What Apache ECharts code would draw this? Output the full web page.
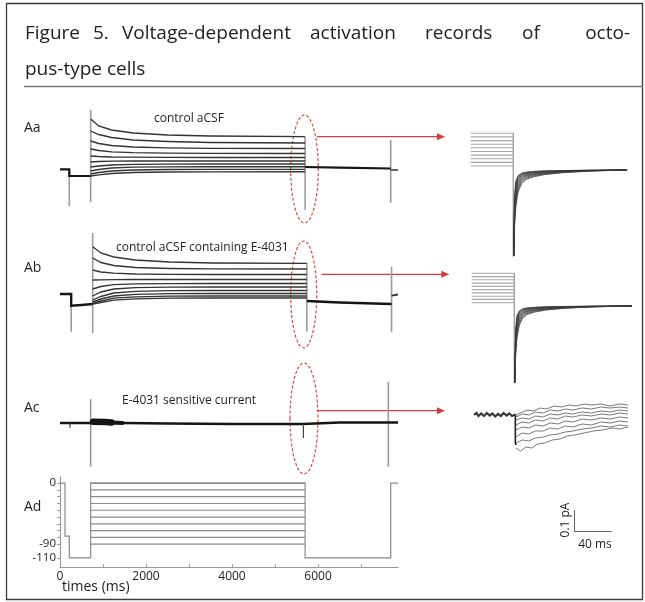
<!DOCTYPE html>
<html>
<head>
<meta charset="utf-8">
<script src="https://cdn.jsdelivr.net/npm/echarts@6/dist/echarts.min.js"></script>
<style>
html, body { margin: 0; padding: 0; background: #fff; }
#chart { width: 645px; height: 602px; }
</style>
</head>
<body>
<div id="chart"></div>
<script>
// ---------- shared time axis (ms) ----------
const timeRange = [0, 7860];
const timeLabelValues = [0, 2000, 4000, 6000];
const timeTickValues = [0, 1000, 2000, 3000, 4000, 5000, 6000, 7000];

// ---------- Ad: voltage protocol (mV) ----------
const voltageRange = [-124, 9];
const voltageLabelValues = [0, -90, -110];
const voltageTickValues = [0, -10, -20, -30, -40, -50, -60, -70, -80, -90, -110];
const protocolOutline = [[0, 0], [116, 0], [116, -78], [216, -78], [216, -110], [713, -110],
  [713, 0], [5700, 0], [5700, -110], [7690, -110], [7690, 0], [7860, 0]];
const stepOn = 713, stepOff = 5700;
const stepLevels = [0, -10, -20, -30, -40, -50, -60, -70, -80, -90];

// ---------- Aa: control aCSF (current, a.u.) ----------
const aaTimes = [713, 900, 1200, 1700, 2500, 3500, 5700];
const aaTraces = [
  [57, 50, 46, 43, 41, 40, 39.3],
  [45, 41.5, 38.5, 36, 34.5, 33.5, 33],
  [35, 32.5, 30.5, 29, 28.2, 27.7, 27.5],
  [27, 25.5, 24.2, 23.3, 22.8, 22.6, 22.5],
  [20, 19.5, 19, 18.8, 18.6, 18.5, 18.5],
  [14, 14.5, 14.8, 15, 15, 15, 15],
  [9, 10, 11, 11.6, 11.9, 12, 12],
  [5, 6.5, 8, 8.8, 9.2, 9.3, 9.3],
  [2, 3.5, 5, 6, 6.5, 6.7, 6.7],
  [0, 1.2, 2.5, 3.5, 4, 4.2, 4.3]
];
const aaHolding = [[0, 6.7], [216, 6.7], [216, 0], [713, 0]];
const aaTail = [[5700, 9], [6500, 8.3], [7690, 7.5]];
const aaAfter = [[7690, 6], [7860, 6]];
const aaTransients = [[216, 6.7, -30], [713, 66, -26], [5700, 39.3, -34], [7690, 36, -26.7]];

// ---------- Ab: control aCSF containing E-4031 ----------
const abTimes = [760, 950, 1250, 1750, 2550, 3550, 5740];
const abTraces = [
  [57.3, 51, 47, 44, 42, 41, 40.7],
  [46, 41.5, 38.5, 36.5, 35.5, 35.1, 35],
  [34, 32, 30.8, 30, 29.7, 29.5, 29.5],
  [24, 24.2, 24.4, 24.5, 24.5, 24.5, 24.5],
  [15, 17.5, 19.3, 20.1, 20.4, 20.5, 20.5],
  [8, 12, 15, 16.3, 16.8, 17, 17],
  [4, 7.5, 11, 12.6, 13.3, 13.5, 13.5],
  [2, 5, 8, 9.6, 10.3, 10.5, 10.5],
  [0.5, 3, 5.8, 7.2, 7.8, 8, 8],
  [0, 1.5, 3.8, 5.2, 5.8, 6, 6]
];
const abHolding = [[0, 10], [260, 10], [260, -1.7], [500, -1], [760, 0]];
const abTail = [[5740, 3], [6500, 1.5], [7710, 0]];
const abAfter = [[7710, 8.3], [7860, 9.5]];
const abTransients = [[260, 10, -27.7], [760, 71, -29], [5740, 40.7, -27.7], [7710, 37.3, -28.3]];

// ---------- Ac: E-4031 sensitive current ----------
const acTrace = [[0, 0], [760, 0], [1500, 0], [2500, -0.5], [4000, -1], [5660, -1], [5700, 0],
  [6500, 0.5], [7860, 0.5]];
const acEarlyNoise = [[770, 1.2], [1050, 1.0], [1200, 0.5]];
const acLateNoise = [[1200, 0.5], [1450, 0]];
const acGlitches = [[230, 0, -5], [5660, -1, -15]];
const acMarkers = [[713, 23.7, -43.7], [7635, 41.3, -43.7]];

// ---------- insets: tail currents after repolarisation (ms from window start) ----------
const insetAaStepEnd = 46.3;
const insetAaSteps = [36.7, 33.1, 29.4, 25.8, 22.2, 18.5, 14.9, 11.3, 7.6, 4];
const insetAaTimes = [46.8, 47.6, 49, 51.5, 55, 60, 68, 80, 100, 130, 168];
const insetAaTails = [
  [-86, -28, -11, -5.5, -3.2, -2.1, -1.4, -0.9, -0.5, -0.2, 0],
  [-86, -31, -13, -6.5, -3.9, -2.6, -1.7, -1.1, -0.6, -0.25, 0],
  [-86, -34, -15, -7.8, -4.7, -3.1, -2.1, -1.4, -0.8, -0.3, 0],
  [-86, -37, -17.5, -9.2, -5.6, -3.8, -2.6, -1.7, -1, -0.4, 0],
  [-86, -40, -20, -10.8, -6.6, -4.5, -3.1, -2.1, -1.2, -0.5, 0],
  [-86, -43, -23, -12.5, -7.8, -5.3, -3.7, -2.5, -1.4, -0.6, 0],
  [-86, -46, -26, -14.5, -9.1, -6.2, -4.4, -3, -1.7, -0.7, 0],
  [-86, -50, -29.5, -16.8, -10.6, -7.2, -5.1, -3.5, -2, -0.8, 0],
  [-86, -54, -33, -19.2, -12.2, -8.3, -5.9, -4, -2.3, -0.9, 0],
  [-86, -58, -37, -22, -14, -9.5, -6.8, -4.6, -2.6, -1, 0]
];

const insetAbStepEnd = 47.4;
const insetAbSteps = [32.7, 29.4, 26.2, 22.9, 19.6, 16.4, 13.1, 9.8, 6.6, 3.3];
const insetAbTimes = [47.9, 48.7, 50.1, 52.6, 56, 61, 69, 81, 101, 131, 173];
const insetAbTails = [
  [-77, -25, -10, -5, -2.9, -1.9, -1.3, -0.8, -0.45, -0.2, 0],
  [-77, -28, -11.7, -5.9, -3.5, -2.3, -1.5, -1, -0.55, -0.22, 0],
  [-77, -30.5, -13.5, -7, -4.2, -2.8, -1.9, -1.25, -0.7, -0.27, 0],
  [-77, -33, -15.8, -8.3, -5, -3.4, -2.3, -1.5, -0.9, -0.36, 0],
  [-77, -36, -18, -9.7, -5.9, -4, -2.8, -1.9, -1.1, -0.45, 0],
  [-77, -38.7, -20.7, -11.2, -7, -4.8, -3.3, -2.2, -1.25, -0.54, 0],
  [-77, -41.4, -23.4, -13, -8.2, -5.6, -4, -2.7, -1.5, -0.63, 0],
  [-77, -45, -26.5, -15, -9.5, -6.5, -4.6, -3.1, -1.8, -0.72, 0],
  [-77, -48.6, -29.7, -17.3, -11, -7.5, -5.3, -3.6, -2.1, -0.8, 0],
  [-77, -52, -33, -19.8, -12.6, -8.5, -6.1, -4.1, -2.3, -0.9, 0]
];

const insetAcBefore = [[4.3, 0], [7, 2], [9, -1], [12, 1.5], [15, -1], [18, 2], [21, -0.5], [24, 1.5],
  [27, -1.5], [30, 1], [33, -1], [36, 2], [39, -0.5], [42, 1.5], [45, -1], [48.5, 0.5]];
const insetAcDrop = [[48.5, 0.5], [48.5, -28], [49.5, -30]];
const insetAcTraces = [
  [[49, 0], [56, 3], [62, 5], [68, 4], [75, 7], [82, 6], [90, 9], [98, 8], [106, 10], [114, 9], [122, 11], [130, 10], [140, 11], [150, 9], [160, 11], [169, 10]],
  [[49, -2], [56, 1], [63, 0], [70, 3], [78, 2], [86, 5], [94, 4], [102, 6], [110, 5], [120, 7], [130, 6], [140, 8], [150, 7], [160, 8], [169, 7]],
  [[49, -5], [56, -3], [63, -4], [70, -1], [78, -2], [86, 1], [94, 0], [102, 2], [110, 1], [120, 3], [130, 2], [140, 4], [150, 3], [160, 5], [169, 4]],
  [[49, -10], [56, -7], [63, -8], [70, -5], [78, -6], [86, -3], [94, -4], [102, -1], [110, -2], [120, 0], [130, -1], [140, 1], [150, 0], [160, 2], [169, 1]],
  [[49, -15], [56, -12], [63, -13], [70, -10], [78, -11], [86, -8], [94, -9], [102, -6], [110, -7], [120, -4], [130, -5], [140, -3], [150, -4], [160, -2], [169, -3]],
  [[49, -22], [56, -18], [63, -19], [70, -16], [78, -16], [86, -13], [94, -14], [102, -11], [110, -12], [120, -9], [130, -10], [140, -7], [150, -8], [160, -6], [169, -7]],
  [[49, -28], [56, -25], [63, -26], [70, -23], [78, -22], [86, -20], [94, -19], [102, -17], [110, -16], [120, -14], [130, -13], [140, -11], [150, -12], [160, -10], [169, -11]],
  [[49, -33], [54, -36], [60, -32], [66, -33], [72, -29], [80, -28], [88, -25], [96, -24], [104, -21], [112, -20], [122, -18], [132, -16], [142, -15], [152, -13], [160, -14], [169, -12]]
];

// ---------- layout of the panels ----------
const FONT = '"Open Sans", "Noto Sans", sans-serif';
const panels = [
  // Aa, Ab, Ac current traces share the time axis of Ad
  { grid: { left: 60, top: 100, width: 338, height: 120 }, x: timeRange, y: [-44, 76] },
  { grid: { left: 60, top: 225, width: 338, height: 120 }, x: timeRange, y: [-41, 79] },
  { grid: { left: 60, top: 370, width: 338, height: 100 }, x: timeRange, y: [-47, 53] },
  { grid: { left: 60, top: 477, width: 338, height: 90.3 }, x: timeRange, y: voltageRange },
  // insets
  { grid: { left: 470, top: 110, width: 162, height: 150 }, x: [0, 173.3], y: [-90, 60] },
  { grid: { left: 470, top: 250, width: 162, height: 140 }, x: [0, 173.3], y: [-84, 56] },
  { grid: { left: 470, top: 395, width: 162, height: 65 }, x: [0, 173.3], y: [-45, 20] }
];

const grids = panels.map(p => Object.assign({ containLabel: false }, p.grid));
const xAxes = panels.map((p, i) => ({
  type: 'value', gridIndex: i, min: p.x[0], max: p.x[1], show: i === 3,
  axisLine: { show: true, onZero: false, lineStyle: { color: '#9a9a9a', width: 1.2 } },
  axisTick: { show: true, inside: true, length: 3, customValues: timeTickValues, lineStyle: { color: '#9a9a9a' } },
  axisLabel: { customValues: timeLabelValues, formatter: v => String(v), color: '#222', fontSize: 12, fontFamily: FONT, margin: 3 },
  splitLine: { show: false }
}));
const yAxes = panels.map((p, i) => ({
  type: 'value', gridIndex: i, min: p.y[0], max: p.y[1], show: i === 3,
  axisLine: { show: true, onZero: false, lineStyle: { color: '#9a9a9a', width: 1.2 } },
  axisTick: { show: true, length: 3, customValues: voltageTickValues, lineStyle: { color: '#9a9a9a' } },
  axisLabel: { customValues: voltageLabelValues, formatter: v => String(v), color: '#222', fontSize: 11.5, fontFamily: FONT, margin: 4 },
  splitLine: { show: false }
}));

const series = [];
function addLine(gridIndex, data, color, width, z, cap) {
  series.push({
    type: 'line', xAxisIndex: gridIndex, yAxisIndex: gridIndex, data: data,
    symbol: 'none', showSymbol: false, silent: true, animation: false, z: z || 2,
    lineStyle: { color: color, width: width, cap: cap || 'butt', join: 'miter' }
  });
}
const pairTimes = (times, vals) => times.map((t, k) => [t, vals[k]]);

// Aa
aaTransients.forEach(([t, a, b]) => addLine(0, [[t, a], [t, b]], '#9c9c9c', 1.6, 1));
aaTraces.forEach(v => addLine(0, pairTimes(aaTimes, v), '#333', 1.35));
addLine(0, aaHolding, '#151515', 2.2, 3);
addLine(0, aaTail, '#151515', 2.2, 3);
addLine(0, aaAfter, '#333', 1.6, 3);

// Ab
abTransients.forEach(([t, a, b]) => addLine(1, [[t, a], [t, b]], '#9c9c9c', 1.6, 1));
abTraces.forEach(v => addLine(1, pairTimes(abTimes, v), '#333', 1.35));
addLine(1, abHolding, '#151515', 2.4, 3);
addLine(1, abTail, '#151515', 2.4, 3);
addLine(1, abAfter, '#333', 1.8, 3);

// Ac
acMarkers.forEach(([t, a, b]) => addLine(2, [[t, a], [t, b]], '#9c9c9c', 1.6, 1));
addLine(2, acTrace, '#151515', 2.6, 3);
addLine(2, acEarlyNoise, '#151515', 6.5, 3, 'round');
addLine(2, acLateNoise, '#151515', 4, 3, 'round');
acGlitches.forEach(([t, a, b]) => addLine(2, [[t, a], [t, b]], '#444', 1.2, 3));

// Ad voltage protocol
addLine(3, protocolOutline, '#8a8a8a', 1.2);
stepLevels.forEach(v => addLine(3, [[stepOn, v], [stepOff, v]], '#8a8a8a', 1.2));

// inset Aa
insetAaSteps.forEach(v => addLine(4, [[0.7, v], [insetAaStepEnd, v]], '#a8a8a8', 1.1));
addLine(4, [[insetAaStepEnd, insetAaSteps[0]], [insetAaStepEnd, -86.7]], '#a0a0a0', 1.4);
insetAaTails.forEach(v => addLine(4, pairTimes(insetAaTimes, v), '#3a3a3a', 0.8, 3));

// inset Ab
insetAbSteps.forEach(v => addLine(5, [[1.8, v], [insetAbStepEnd, v]], '#a8a8a8', 1.1));
addLine(5, [[insetAbStepEnd, insetAbSteps[0]], [insetAbStepEnd, -77.3]], '#a0a0a0', 1.4);
insetAbTails.forEach(v => addLine(5, pairTimes(insetAbTimes, v), '#3a3a3a', 0.8, 3));

// inset Ac
insetAcTraces.forEach(d => addLine(6, d, '#7a7a7a', 1));
addLine(6, insetAcBefore, '#3a3a3a', 2.2, 3);
addLine(6, insetAcDrop, '#222', 1.6, 3);

// ---------- annotations ----------
const RED = '#d63c3c';
function text(x, y, str, size, opts) {
  return Object.assign({
    type: 'text', x: x, y: y, silent: true,
    style: Object.assign({ text: str, font: size + 'px ' + FONT, fill: '#1e1e1e', align: 'left', verticalAlign: 'middle' }, opts || {})
  });
}
function seg(x1, y1, x2, y2, color, w, dash) {
  return { type: 'line', silent: true, shape: { x1, y1, x2, y2 }, style: { stroke: color, lineWidth: w, lineDash: dash || null } };
}
function arrow(x1, y, x2) {
  return [seg(x1, y, x2 - 6, y, RED, 1.2),
    { type: 'polygon', silent: true, shape: { points: [[x2, y], [x2 - 8, y - 3.5], [x2 - 8, y + 3.5]] }, style: { fill: RED } }];
}
function ellipse(cx, cy, rx, ry) {
  return { type: 'ellipse', silent: true, shape: { cx, cy, rx, ry }, style: { fill: 'none', stroke: RED, lineWidth: 1.1, lineDash: [3, 2] } };
}

// justified first title line: word, left edge (or right edge for the last word)
const titleWords = [
  ['Figure', 25, 'left'], ['5.', 93, 'left'], ['Voltage-dependent', 122, 'left'], ['activation', 310, 'left'],
  ['records', 425, 'left'], ['of', 522, 'left'], ['octo-', 630, 'right']
];

const graphics = [
  { type: 'rect', silent: true, shape: { x: 6.5, y: 3.5, width: 636, height: 596 }, style: { fill: 'none', stroke: '#3a3a3a', lineWidth: 1.3 } },
  seg(24, 86.5, 643, 86.5, '#7a7a7a', 1.6)
];
titleWords.forEach(([w, x, al]) => graphics.push(text(x, 34, w, 19, { fill: '#222', align: al })));
graphics.push(text(25, 70, 'pus-type cells', 19, { fill: '#222' }));

graphics.push(text(24, 128, 'Aa', 14));
graphics.push(text(24, 268, 'Ab', 14));
graphics.push(text(24, 408, 'Ac', 14));
graphics.push(text(24, 507, 'Ad', 14));

graphics.push(text(154, 119, 'control aCSF', 12));
graphics.push(text(116, 248, 'control aCSF containing E-4031', 12));
graphics.push(text(122, 401, 'E-4031 sensitive current', 12));

graphics.push(ellipse(304.5, 169, 13.8, 54));
graphics.push(ellipse(303.7, 294.5, 13, 53.5));
graphics.push(ellipse(304, 418.5, 14, 55.5));
graphics.push(...arrow(316.7, 136.7, 445));
graphics.push(...arrow(321.7, 274.3, 449.3));
graphics.push(...arrow(316.7, 410.7, 445));

// scale bar for the insets
graphics.push(seg(574.5, 510, 574.5, 532, '#666', 1.1));
graphics.push(seg(574, 531.5, 611.7, 531.5, '#666', 1.1));
graphics.push({
  type: 'text', x: 566, y: 520, rotation: Math.PI / 2, silent: true,
  style: { text: '0.1 pA', font: '12px ' + FONT, fill: '#1e1e1e', align: 'center', verticalAlign: 'middle' }
});
graphics.push(text(595, 545, '40 ms', 12, { align: 'center' }));

graphics.push(text(62, 587, 'times (ms)', 14));

const chart = echarts.init(document.getElementById('chart'), null, { renderer: 'canvas' });
chart.setOption({
  animation: false,
  backgroundColor: '#fff',
  textStyle: { fontFamily: FONT },
  grid: grids,
  xAxis: xAxes,
  yAxis: yAxes,
  series: series,
  graphic: graphics
});
</script>
</body>
</html>
